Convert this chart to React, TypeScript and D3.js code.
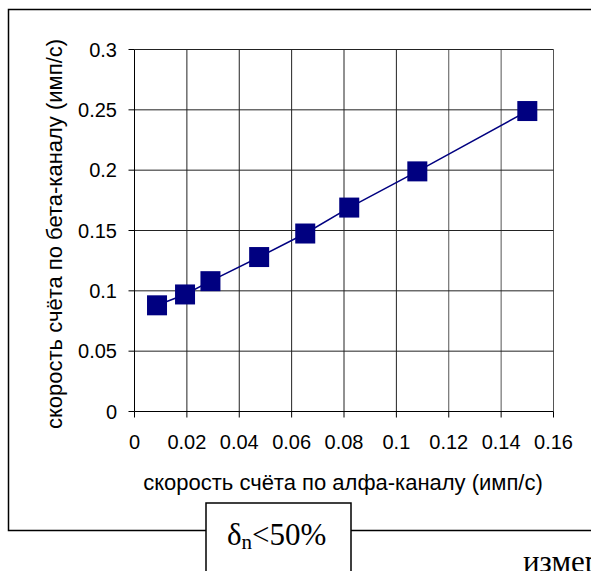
import React from 'react';
import * as d3 from 'd3';

// alpha-channel count rate (x) vs beta-channel count rate (y)
const alphaRates = [0.0086, 0.0193, 0.029, 0.0476, 0.0652, 0.082, 0.108, 0.15];
const betaRates = [0.088, 0.097, 0.108, 0.128, 0.1475, 0.169, 0.199, 0.249];
const xTicks = [0, 0.02, 0.04, 0.06, 0.08, 0.1, 0.12, 0.14, 0.16];
const yTicks = [0, 0.05, 0.1, 0.15, 0.2, 0.25, 0.3];

const W = 591;
const H = 571;
const plot = { left: 134.5, top: 49.5, right: 553.5, bottom: 411.5 };
const sans = '"Liberation Sans", Arial, sans-serif';
const serif = '"Liberation Serif", "Times New Roman", serif';
const navy = '#000080';

const App = () => {
    const x = d3.scaleLinear().domain([0, 0.16]).range([plot.left, plot.right]);
    const y = d3.scaleLinear().domain([0, 0.3]).range([plot.bottom, plot.top]);
    const pts = alphaRates.map((a, i) => [a, betaRates[i]] as [number, number]);
    const line = d3.line<[number, number]>().x(d => x(d[0])).y(d => y(d[1]));
    const fmt = (v: number) => (v === 0 ? '0' : String(+v.toFixed(2)));

    return (
        <svg width={W} height={H} style={{ position: 'absolute', left: 0, top: 0 }}>
            <rect width={W} height={H} fill="#fff" />
            {/* outer frame */}
            <path d={`M${W},9.5 H8.5 V530.5 H206`} fill="none" stroke="#000" strokeWidth={1.5} />
            <path d={`M351,530.5 H${W}`} fill="none" stroke="#000" strokeWidth={1.5} />

            {/* grid */}
            {xTicks.slice(1).map(t => (
                <line key={'gx' + t} x1={x(t)} x2={x(t)} y1={plot.top} y2={plot.bottom}
                    stroke={t >= 0.12 ? '#555' : '#222'} strokeWidth={1} />
            ))}
            {yTicks.slice(1).map(t => (
                <line key={'gy' + t} x1={plot.left} x2={plot.right} y1={y(t)} y2={y(t)}
                    stroke="#222" strokeWidth={1} />
            ))}
            {/* axes */}
            <line x1={plot.left} x2={plot.left} y1={plot.top} y2={plot.bottom} stroke="#000" />
            <line x1={plot.left} x2={plot.right} y1={plot.bottom} y2={plot.bottom} stroke="#000" strokeWidth={1.2} />
            {yTicks.map(t => (
                <line key={'ty' + t} x1={plot.left - 6} x2={plot.left} y1={y(t)} y2={y(t)} stroke="#000" />
            ))}
            {xTicks.map(t => (
                <line key={'tx' + t} x1={x(t)} x2={x(t)} y1={plot.bottom} y2={plot.bottom + 6} stroke="#000" />
            ))}

            {/* tick labels */}
            {yTicks.map(t => (
                <text key={'ly' + t} x={117} y={y(t) + 7} textAnchor="end"
                    fontFamily={sans} fontSize={20} fill="#000">{fmt(t)}</text>
            ))}
            {xTicks.map(t => (
                <text key={'lx' + t} x={x(t)} y={449} textAnchor="middle"
                    fontFamily={sans} fontSize={20} fill="#000">{fmt(t)}</text>
            ))}

            {/* axis titles */}
            <text x={343} y={490} textAnchor="middle" fontFamily={sans} fontSize={22} fill="#000">
                скорость счёта по алфа-каналу (имп/с)
            </text>
            <text transform="translate(62,234) rotate(-90)" textAnchor="middle"
                fontFamily={sans} fontSize={22} fill="#000">
                скорость счёта по бета-каналу (имп/с)
            </text>

            {/* series */}
            <path d={line(pts) || ''} fill="none" stroke={navy} strokeWidth={1.5} />
            {pts.map((d, i) => (
                <rect key={'p' + i} x={x(d[0]) - 10} y={y(d[1]) - 10} width={20} height={20} fill={navy} />
            ))}

            {/* annotation box */}
            <path d={`M206,${H + 2} V503 H351 V${H + 2}`} fill="none" stroke="#000" strokeWidth={1.5} />
            <text x={227} y={545} fontFamily={serif} fontSize={31} fill="#000">
                δ<tspan fontSize={21} dy={4}>n</tspan><tspan dy={-4}>&lt;50%</tspan>
            </text>
            <text x={523} y={572} fontFamily={serif} fontSize={31} fill="#000">измерения</text>
        </svg>
    );
};

export default App;
